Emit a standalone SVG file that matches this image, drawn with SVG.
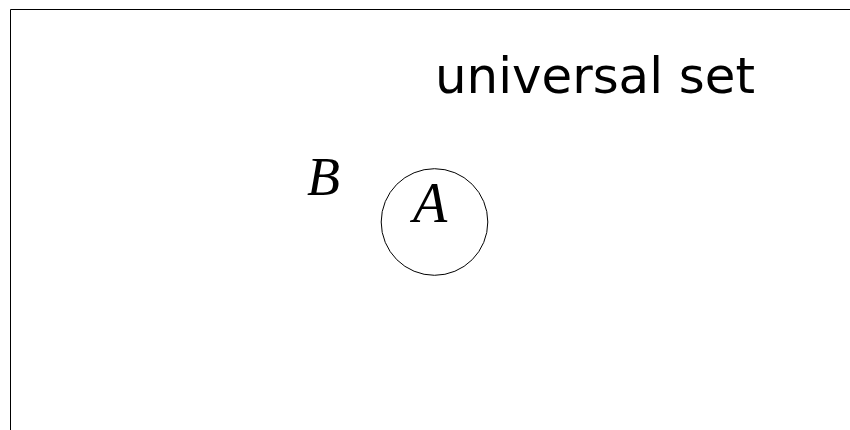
<svg xmlns="http://www.w3.org/2000/svg" width="850" height="430" viewBox="0 0 850 430">
<style>
.frame{fill:none;stroke:#000;stroke-width:1}
.set{fill:none;stroke:#000;stroke-width:1}
.math{font-family:"Liberation Serif","DejaVu Serif",serif;font-style:italic;fill:#000}
.label{font-family:"DejaVu Sans",sans-serif;fill:#000}
</style>
<rect width="850" height="430" fill="#fff"/>
<g id="universe">
<path class="frame" d="M10.5,430 V9.5 H850"/>
<text class="label" x="435" y="93" font-size="50" textLength="320" lengthAdjust="spacingAndGlyphs">universal set</text>
<text class="math" x="307" y="195" font-size="54">B</text>
</g>
<g id="A">
<circle class="set" cx="434.5" cy="222" r="53.3"/>
<text class="math" x="413" y="222" font-size="56">A</text>
</g>
</svg>
